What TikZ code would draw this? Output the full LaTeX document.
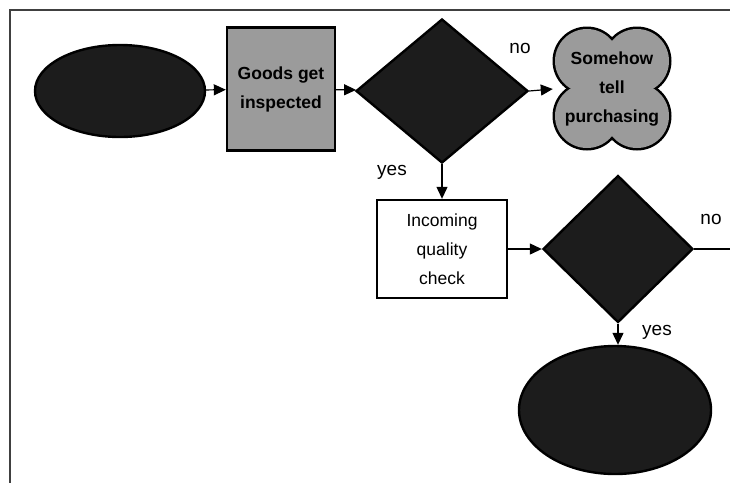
\documentclass[tikz,border=0pt]{standalone}
\usepackage{fontspec}
\setmainfont{Liberation Sans}
\usetikzlibrary{shapes.geometric,arrows.meta}
\definecolor{darkfill}{RGB}{28,28,28}
\definecolor{lightfill}{RGB}{155,155,155}
\begin{document}
\begin{tikzpicture}[x=1pt,y=-1pt,
  outl/.style={draw=black,line width=2.4pt},
  darkell/.style={outl,ellipse,fill=darkfill,inner sep=0pt},
  darkdia/.style={outl,diamond,fill=darkfill,inner sep=0pt},
  txt/.style={font=\fontsize{17.5}{29}\selectfont,align=center},
  lbl/.style={font=\fontsize{19}{22}\selectfont,inner sep=0pt},
  conn/.style={line width=1.2pt,-{Triangle[length=12pt,width=11pt]}},
  plain/.style={line width=1.2pt}]
\useasboundingbox (0,0) rectangle (730,483);
\draw[line width=1.5pt,black!75] (730,10) -- (10,10) -- (10,483);

\node[darkell,minimum width=170pt,minimum height=92pt] (start) at (120,91) {};
\node[outl,fill=lightfill,minimum width=108pt,minimum height=123pt,txt] (insp) at (281,89) {\bfseries Goods get\\ \bfseries inspected};
\node[darkdia,minimum width=172pt,minimum height=144pt] (d1) at (442,91) {};

% cloud
\foreach \cx/\cy in {587/61,637/61,587/116,637/116}{
  \fill[black] (\cx,\cy) circle (34.5pt);
}
\foreach \cx/\cy in {587/61,637/61,587/116,637/116}{
  \fill[lightfill] (\cx,\cy) circle (32pt);
}
\fill[lightfill] (580,55) rectangle (644,122);
\node[txt,minimum width=118pt,minimum height=122pt,inner sep=0pt] (cloud) at (612,89) {\bfseries Somehow\\ \bfseries tell\\ \bfseries purchasing};

\node[outl,fill=white,minimum width=130pt,minimum height=98pt,txt] (qc) at (442,249) {Incoming\\quality\\check};
\node[darkdia,minimum width=150pt,minimum height=147pt] (d2) at (618,249) {};
\node[darkell,minimum width=192pt,minimum height=128pt] (end) at (615,410) {};
\coordinate (out) at (730,249);

\draw[conn] (start) -- (insp);
\draw[conn] (insp) -- (d1);
\draw[conn] (d1.east) -- (cloud.west);
\draw[conn] (d1.south) -- (qc.north);
\draw[conn] (qc.east) -- (d2.west);
\draw[plain] (d2.east) -- (out);
\draw[conn] (d2.south) -- (d2.south |- end.north);

\node[lbl] (no1) at (520,48) {no};
\node[lbl] (yes1) at (392,172) {yes};
\node[lbl] (no2) at (711,219) {no};
\node[lbl] (yes2) at (657,332) {yes};
\end{tikzpicture}
\end{document}
